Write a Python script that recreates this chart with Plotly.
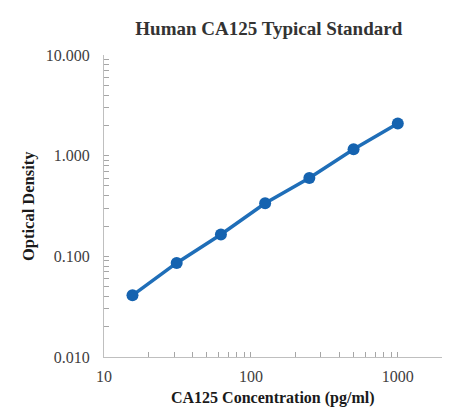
import plotly.graph_objects as go

concentration = [15.625, 31.25, 62.5, 125, 250, 500, 1000]
optical_density = [0.041, 0.086, 0.165, 0.336, 0.600, 1.156, 2.09]

y_tick_vals = [0.01, 0.1, 1, 10]
y_tick_text = ["0.010", "0.100", "1.000", "10.000"]
x_tick_vals = [10, 100, 1000]
x_tick_text = ["10", "100", "1000"]

blue = "#1f6eb8"
serif = "Liberation Serif, Times New Roman, serif"

fig = go.Figure()
fig.add_trace(go.Scatter(
    x=concentration, y=optical_density,
    mode="lines+markers",
    line=dict(color=blue, width=3.5),
    marker=dict(color="#1563b0", size=12, line=dict(color="#1563b0", width=0)),
    showlegend=False,
))

axis_common = dict(
    showgrid=False, zeroline=False,
    showline=True, linecolor="#bfbfbf", linewidth=1.3,
    ticks="inside", ticklen=5, tickcolor="#a6a6a6", tickwidth=1,
    tickfont=dict(family=serif, size=16, color="#404040"),
    mirror=False,
)

fig.update_xaxes(
    type="log", range=[1, 3.301],
    tickvals=x_tick_vals, ticktext=x_tick_text,
    minor=dict(dtick="D1", ticks="inside", ticklen=5, tickcolor="#a6a6a6", showgrid=False),
    ticklabelstandoff=5,
    **axis_common,
)
fig.update_yaxes(
    type="log", range=[-2, 1],
    tickvals=y_tick_vals, ticktext=y_tick_text,
    minor=dict(dtick="D1", ticks="inside", ticklen=5, tickcolor="#a6a6a6", showgrid=False),
    ticklabelstandoff=10,
    **axis_common,
)

fig.add_annotation(
    text="<b>CA125 Concentration (pg/ml)</b>", showarrow=False,
    xref="paper", yref="paper", x=0.5, y=0, xanchor="center", yanchor="middle",
    yshift=-41, font=dict(family=serif, size=16, color="#1a1a1a"),
)
fig.add_annotation(
    text="<b>Optical Density</b>", showarrow=False, textangle=-90,
    xref="paper", yref="paper", x=0, y=0.5, xanchor="center", yanchor="middle",
    xshift=-76, font=dict(family=serif, size=16.5, color="#1a1a1a"),
)

fig.update_layout(
    width=442, height=411,
    margin=dict(l=96, r=8, t=47, b=62),
    paper_bgcolor="white", plot_bgcolor="white",
    title=dict(text="<b>Human CA125 Typical Standard</b>",
               font=dict(family=serif, size=19, color="#333333"),
               xref="container", x=0.59, xanchor="center",
               yref="container", y=0.95, yanchor="middle"),
)

fig.write_html("out.html")
